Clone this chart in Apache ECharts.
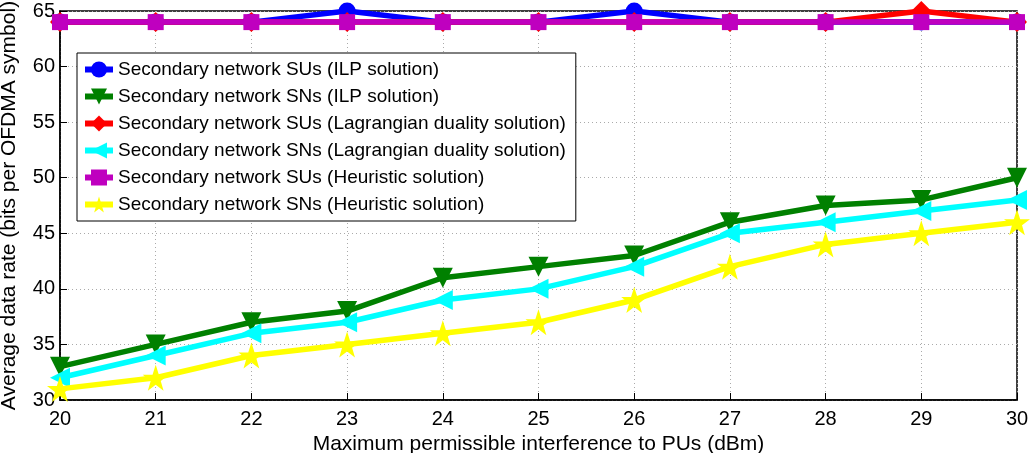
<!DOCTYPE html>
<html><head><meta charset="utf-8">
<script src="https://cdn.jsdelivr.net/npm/echarts@6/dist/echarts.min.js"></script>
<style>html,body{margin:0;padding:0;background:#fff}#c{width:1033px;height:453px}</style>
</head><body><div id="c"></div>
<script>
const xValues = [20,21,22,23,24,25,26,27,28,29,30];
const seriesNames = [
  'Secondary network SUs (ILP solution)',
  'Secondary network SNs (ILP solution)',
  'Secondary network SUs (Lagrangian duality solution)',
  'Secondary network SNs (Lagrangian duality solution)',
  'Secondary network SUs (Heuristic solution)',
  'Secondary network SNs (Heuristic solution)'
];
const suILP = [64,64,64,65,64,64,65,64,64,64,64];
const snILP = [33,35,37,38,41,42,43,46,47.5,48,50];
const suLag = [64,64,64,64,64,64,64,64,64,65,64];
const snLag = [32,34,36,37,39,40,42,45,46,47,48];
const suHeu = [64,64,64,64,64,64,64,64,64,64,64];
const snHeu = [31,32,34,35,36,37,39,42,44,45,46];
const yTicks = [30,35,40,45,50,55,60,65];

const star = 'path://M50,0 L61.8,35.1 L98.5,35.1 L68.8,56.7 L79.4,91 L50,70 L20.6,91 L31.2,56.7 L1.5,35.1 L38.2,35.1 Z';
const styles = [
  {color:'#0000ff', symbol:'circle', size:17, rot:0},
  {color:'#008000', symbol:'triangle', size:20, rot:180},
  {color:'#ff0000', symbol:'diamond', size:20, rot:0},
  {color:'#00ffff', symbol:'triangle', size:20, rot:90},
  {color:'#bf00bf', symbol:'rect', size:16, rot:0},
  {color:'#ffff00', symbol:star, size:26, rot:0}
];
const allData = [suILP, snILP, suLag, snLag, suHeu, snHeu];
const font = 'Liberation Sans, Arial, sans-serif';

const series = allData.map((arr,i)=>({
  name: seriesNames[i],
  type:'line',
  data: arr.map((v,j)=>[xValues[j], v]),
  symbol: styles[i].symbol,
  symbolSize: styles[i].size,
  symbolRotate: styles[i].rot,
  lineStyle:{color:styles[i].color, width:5.5},
  itemStyle:{color:styles[i].color},
  clip:false,
  z: 2+i
}));

const chart = echarts.init(document.getElementById('c'));
chart.setOption({
  animation:false,
  backgroundColor:'#fff',
  grid:{left:60, right:16, top:11, bottom:53, show:true, borderColor:'#000', borderWidth:1.5,
        containLabel:false, outerBoundsMode:'none'},
  legend:{
    orient:'vertical', left:77, top:53, width:495,
    backgroundColor:'#fff', borderColor:'#000', borderWidth:1,
    padding:[7,10,7,5], itemGap:8, itemWidth:28, itemHeight:20,
    lineStyle:{width:6},
    textStyle:{fontFamily:font, fontSize:19, color:'#000'},
    data: seriesNames
  },
  xAxis:{
    type:'value', min:20, max:30, interval:1,
    name:'Maximum permissible interference to PUs (dBm)',
    nameLocation:'middle', nameGap:28,
    nameTextStyle:{fontFamily:font, fontSize:21, color:'#000'},
    axisLine:{lineStyle:{color:'#000', width:1.5}},
    axisTick:{inside:true, length:7, lineStyle:{color:'#000'}},
    axisLabel:{fontFamily:font, fontSize:20, color:'#000', margin:9},
    splitLine:{show:true, lineStyle:{color:'#aaa', type:[1,3], width:1}}
  },
  yAxis:{
    type:'value', min:yTicks[0], max:yTicks[yTicks.length-1], interval:5,
    name:'Average data rate (bits per OFDMA symbol)',
    nameLocation:'middle', nameGap:40,
    nameTextStyle:{fontFamily:font, fontSize:21, color:'#000'},
    axisLine:{lineStyle:{color:'#000', width:1.5}},
    axisTick:{inside:true, length:7, lineStyle:{color:'#000'}},
    axisLabel:{fontFamily:font, fontSize:20, color:'#000', margin:5},
    splitLine:{show:true, lineStyle:{color:'#aaa', type:[1,3], width:1}}
  },
  series: series
});
</script></body></html>
